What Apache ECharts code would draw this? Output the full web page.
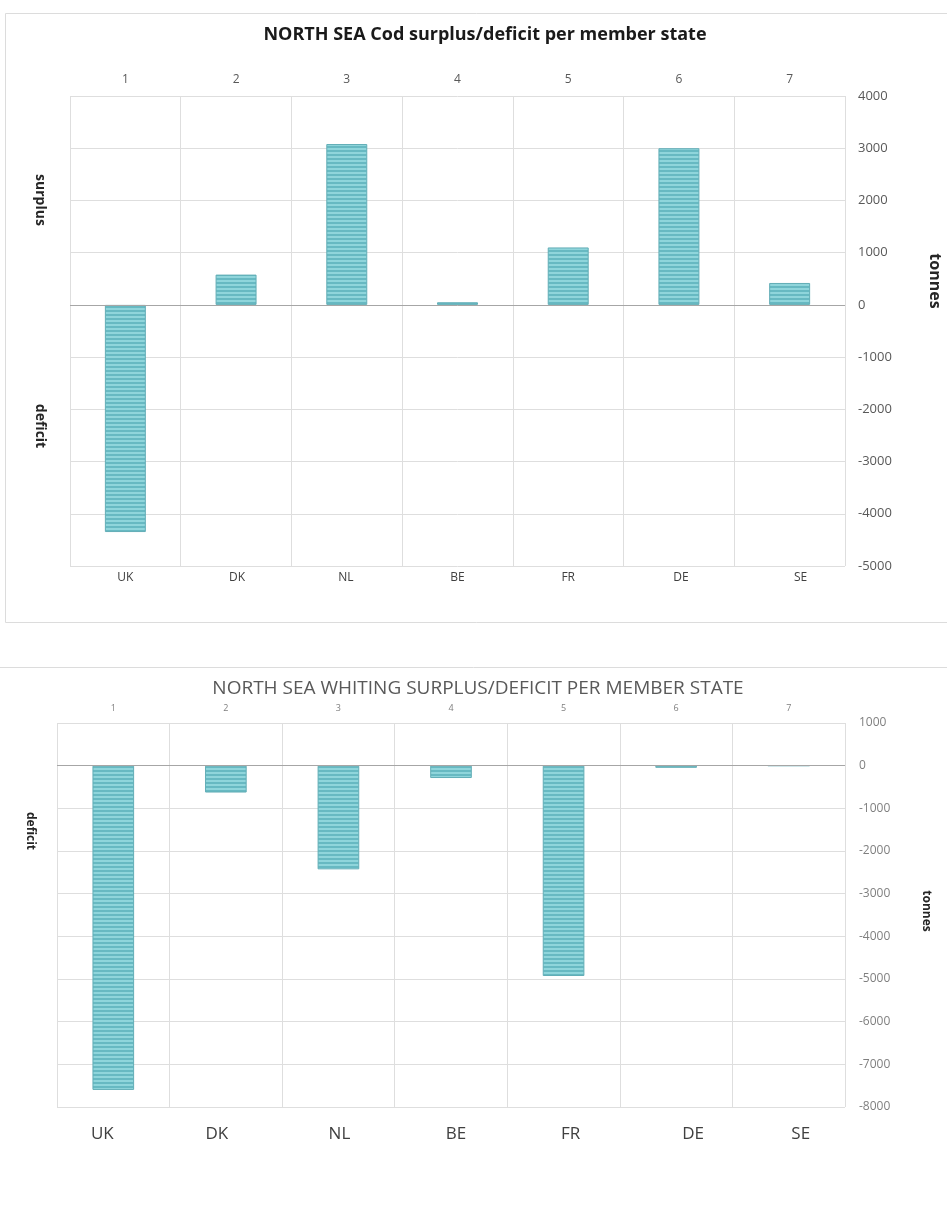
<!DOCTYPE html>
<html>
<head>
<meta charset="utf-8">
<title>North Sea surplus/deficit per member state</title>
<script src="https://cdn.jsdelivr.net/npm/echarts@6/dist/echarts.min.js"></script>
<style>
  html, body { margin: 0; padding: 0; background: #ffffff; }
  #chart { width: 947px; height: 1206px; }
</style>
</head>
<body>
<div id="chart"></div>
<script>
// Member states and their column numbers
const countries = ['UK', 'DK', 'NL', 'BE', 'FR', 'DE', 'SE'];
const columnNumbers = ['1', '2', '3', '4', '5', '6', '7'];

// Cod surplus (+) / deficit (-) in tonnes
const codValues = [-4350, 580, 3080, 50, 1100, 3000, 420];
// Whiting surplus (+) / deficit (-) in tonnes
const whitingValues = [-7600, -630, -2430, -290, -4930, -50, 0];

// Value-axis ranges
const codRange = { min: -5000, max: 4000, interval: 1000 };
const whitingRange = { min: -8000, max: 1000, interval: 1000 };

const FONT = '"Open Sans", Lato, sans-serif';

// Horizontal nudges (px) of the country names under each column
const codLabelShift = [0, 1, -1, 0, 0, 2, 11];
const whitingLabelShift = [-11, -9, 1, 5, 7, 17, 12];

// Horizontally striped teal fill used for the bars
function stripePattern() {
  const c = document.createElement('canvas');
  c.width = 4; c.height = 4;
  const ctx = c.getContext('2d');
  ctx.fillStyle = '#8fd5db';
  ctx.fillRect(0, 0, 4, 2);
  ctx.fillStyle = '#67b9c2';
  ctx.fillRect(0, 2, 4, 2);
  return { image: c, repeat: 'repeat' };
}
const barFill = stripePattern();

const gridLine = { show: true, lineStyle: { color: '#dedede', width: 1 } };

// Country label style with a per-column horizontal nudge done through rich-text padding
function shiftedLabels(shifts, base) {
  const rich = {};
  shifts.forEach((d, i) => {
    rich['s' + i] = Object.assign({}, base, {
      padding: d >= 0 ? [0, 0, 0, 2 * d] : [0, -2 * d, 0, 0]
    });
  });
  return Object.assign({}, base, {
    formatter: (value, index) => '{s' + index + '|' + value + '}',
    rich
  });
}

function categoryAxes(gridIndex, labelStyleBottom, labelStyleTop) {
  return [
    {
      type: 'category', gridIndex, position: 'bottom', data: countries,
      axisLine: { show: false }, axisTick: { show: false },
      axisLabel: labelStyleBottom,
      splitLine: { show: true, interval: 0, lineStyle: { color: '#dedede', width: 1 } }
    },
    {
      type: 'category', gridIndex, position: 'top', data: columnNumbers,
      axisLine: { show: false }, axisTick: { show: false },
      axisLabel: labelStyleTop,
      splitLine: { show: false }
    }
  ];
}

const chart = echarts.init(document.getElementById('chart'), null, { renderer: 'canvas' });

const option = {
  backgroundColor: '#ffffff',
  animation: false,
  grid: [
    { left: 70, right: 102, top: 96, height: 470 },
    { left: 57, right: 102, top: 723, height: 384 }
  ],
  xAxis: [
    ...categoryAxes(0,
      Object.assign(shiftedLabels(codLabelShift,
        { color: '#404040', fontSize: 12, fontFamily: FONT }), { margin: 6 }),
      { color: '#595959', fontSize: 12, fontFamily: FONT, margin: 10 }),
    ...categoryAxes(1,
      Object.assign(shiftedLabels(whitingLabelShift,
        { color: '#404040', fontSize: 17, fontFamily: FONT }), { margin: 19 }),
      { color: '#7f7f7f', fontSize: 9, fontFamily: FONT, margin: 10 })
  ],
  yAxis: [
    {
      type: 'value', gridIndex: 0, position: 'right',
      min: codRange.min, max: codRange.max, interval: codRange.interval,
      axisLine: { show: false }, axisTick: { show: false },
      axisLabel: { color: '#595959', fontSize: 13, fontFamily: FONT, margin: 13,
                   formatter: v => String(v) },
      splitLine: gridLine
    },
    {
      type: 'value', gridIndex: 1, position: 'right',
      min: whitingRange.min, max: whitingRange.max, interval: whitingRange.interval,
      axisLine: { show: false }, axisTick: { show: false },
      axisLabel: { color: '#7f7f7f', fontSize: 12, fontFamily: FONT, margin: 14,
                   formatter: v => String(v) },
      splitLine: gridLine
    }
  ],
  series: [
    {
      name: 'Cod', type: 'bar', xAxisIndex: 0, yAxisIndex: 0,
      data: codValues, barWidth: '37%',
      itemStyle: { color: barFill, borderColor: '#62adb6', borderWidth: 1 },
      markLine: {
        silent: true, symbol: 'none', label: { show: false },
        lineStyle: { color: '#a6a6a6', width: 1, type: 'solid' },
        data: [{ yAxis: 0 }]
      }
    },
    {
      name: 'Whiting', type: 'bar', xAxisIndex: 2, yAxisIndex: 1,
      data: whitingValues, barWidth: '37%',
      itemStyle: { color: barFill, borderColor: '#62adb6', borderWidth: 1 },
      markLine: {
        silent: true, symbol: 'none', label: { show: false },
        lineStyle: { color: '#a6a6a6', width: 1, type: 'solid' },
        data: [{ yAxis: 0 }]
      }
    }
  ],
  graphic: [
    // panel frames
    { type: 'rect', z: -10, shape: { x: 5.5, y: 13.5, width: 960, height: 609 },
      style: { fill: 'none', stroke: '#dcdcdc', lineWidth: 1 } },
    { type: 'rect', z: -10, shape: { x: -1.5, y: 667.5, width: 960, height: 600 },
      style: { fill: 'none', stroke: '#dcdcdc', lineWidth: 1 } },
    // titles
    { type: 'text', x: 485, y: 35,
      style: { text: 'NORTH SEA Cod surplus/deficit per member state', fill: '#1a1a1a',
               font: 'bold 18px ' + FONT, align: 'center', verticalAlign: 'middle' } },
    { type: 'text', x: 478, y: 689,
      style: { text: 'NORTH SEA WHITING SURPLUS/DEFICIT PER MEMBER STATE', fill: '#595959',
               font: '19px ' + FONT, align: 'center', verticalAlign: 'middle' } },
    // side labels (rotated clockwise)
    { type: 'text', x: 40, y: 200, rotation: -Math.PI / 2,
      style: { text: 'surplus', fill: '#262626', font: 'bold 14px ' + FONT,
               align: 'center', verticalAlign: 'middle' } },
    { type: 'text', x: 40, y: 426, rotation: -Math.PI / 2,
      style: { text: 'deficit', fill: '#262626', font: 'bold 14px ' + FONT,
               align: 'center', verticalAlign: 'middle' } },
    { type: 'text', x: 935, y: 281, rotation: -Math.PI / 2,
      style: { text: 'tonnes', fill: '#262626', font: 'bold 16px ' + FONT,
               align: 'center', verticalAlign: 'middle' } },
    { type: 'text', x: 30, y: 831, rotation: -Math.PI / 2,
      style: { text: 'deficit', fill: '#262626', font: 'bold 12px ' + FONT,
               align: 'center', verticalAlign: 'middle' } },
    { type: 'text', x: 926, y: 911, rotation: -Math.PI / 2,
      style: { text: 'tonnes', fill: '#262626', font: 'bold 12px ' + FONT,
               align: 'center', verticalAlign: 'middle' } }
  ]
};

chart.setOption(option);
</script>
</body>
</html>
